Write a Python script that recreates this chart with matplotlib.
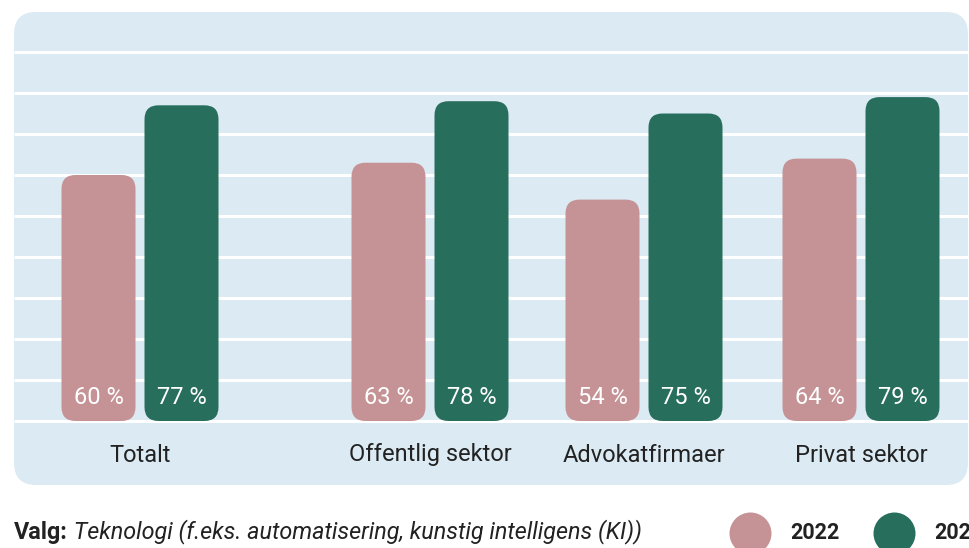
import matplotlib
matplotlib.use("Agg")
import matplotlib.pyplot as plt
from matplotlib.patches import FancyBboxPatch

plt.rcParams['font.family'] = ['Roboto', 'DejaVu Sans']

categories = ["Totalt", "Offentlig sektor", "Advokatfirmaer", "Privat sektor"]
values_2022 = [60, 63, 54, 64]
values_2024 = [77, 78, 75, 79]
series_names = ["2022", "2024"]

PINK = "#c59396"
GREEN = "#286e5c"
BG = "#dcebf3"
TXT = "#222222"

# layout in pixels (x) and percent (y); 4.1 px per percent, baseline at y=421px
PX = 4.1
BASE = 421
W, H = 970, 548

fig = plt.figure(figsize=(W / 100, H / 100), dpi=100)
ax = fig.add_axes([0, 0, 1, 1])
ax.set_xlim(0, W)
ax.set_ylim(-(H - BASE) / PX, BASE / PX)
ax.axis("off")

def v(ypix):
    return (BASE - ypix) / PX

# background panel
panel = FancyBboxPatch((14, v(485)), 968 - 14, v(12) - v(485),
                       boxstyle="round,pad=0,rounding_size=22",
                       mutation_aspect=1 / PX, fc=BG, ec="none", zorder=0)
ax.add_patch(panel)

# white gridlines
ax.hlines(range(0, 100, 10), 14, 968, color="white", lw=2.2, zorder=1)

centers = [140, 430, 644, 861]
bw = 74
off = 41.5

for i, cat in enumerate(categories):
    for val, dx, col in [(values_2022[i], -off, PINK), (values_2024[i], off, GREEN)]:
        x0 = centers[i] + dx - bw / 2
        bar = FancyBboxPatch((x0, 0), bw, val,
                             boxstyle="round,pad=0,rounding_size=14",
                             mutation_aspect=1 / PX, fc=col, ec="none", zorder=2)
        ax.add_patch(bar)
        ax.text(centers[i] + dx, v(397), f"{val} %", color="white",
                fontsize=17, ha="center", va="center", zorder=3)
    ax.text(centers[i], v(455), cat, color=TXT, fontsize=17,
            ha="center", va="center", zorder=3)

# caption
t1 = ax.text(14, v(532), "Valg:", fontsize=16.8, fontweight="bold", color=TXT,
             ha="left", va="center")
ax.annotate(" Teknologi (f.eks. automatisering, kunstig intelligens (KI))",
            xy=(1, 0), xycoords=t1, ha="left", va="bottom",
            fontsize=16.8, fontstyle="italic", color=TXT)

# legend
for name, col, cx in [(series_names[0], PINK, 750), (series_names[1], GREEN, 894)]:
    ax.scatter([cx], [v(533)], s=(42 * 0.72) ** 2, color=col, clip_on=False,
               zorder=3, linewidths=0)
    ax.text(cx + 40, v(533), name, fontsize=15.5, fontweight="bold", color=TXT,
            ha="left", va="center")

fig.savefig("out.png", dpi=100)
